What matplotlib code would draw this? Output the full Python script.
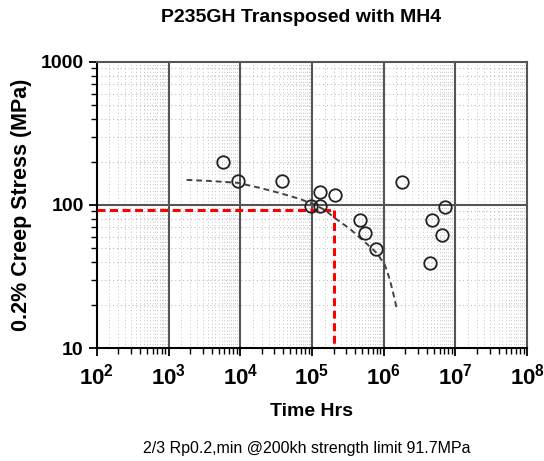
import numpy as np
import matplotlib
matplotlib.use("Agg")
import matplotlib.pyplot as plt
from matplotlib.ticker import LogLocator, NullFormatter, FixedLocator

plt.rcParams['font.family'] = ['Liberation Sans', 'DejaVu Sans']

# test results: rupture time (h) and stress (MPa)
time_hrs = [5780, 9350, 38400, 129000, 208000, 96600, 129000,
            466000, 547000, 771000, 1.81e6, 4.41e6, 4.75e6, 6.55e6, 7.08e6]
stress_mpa = [199, 147, 148, 124, 117, 98.4, 98,
              78.5, 64, 49, 145.6, 39, 78.5, 61.7, 96.4]

# master curve (MH4 fit)
fit_time = [1782, 3767, 9270, 18750, 35650, 67800, 103000, 151000,
            208000, 338000, 547000, 804000, 1.04e6, 1.22e6, 1.43e6, 1.53e6]
fit_stress = [149.6, 147, 142.6, 131.5, 121, 110, 101.6, 92.3,
              81, 68, 55, 46, 38, 30, 21.7, 18.4]

limit_time = 200000
limit_stress = 91.7

fig = plt.figure(figsize=(5.44, 4.61), dpi=100)
ax = fig.add_axes([0.178, 0.245, 0.791, 0.621])
ax.set_xscale('log')
ax.set_yscale('log')
ax.set_xlim(1e2, 1e8)
ax.set_ylim(10, 1000)

# dotted minor grid (denser in x), solid major grid
fine_subs = np.arange(1.5, 10, 0.5)
xs_fine = [d * s for d in 10.0 ** np.arange(2, 8) for s in fine_subs]
ys_fine = [d * s for d in 10.0 ** np.arange(1, 3) for s in range(2, 10)]
for v in xs_fine:
    ax.axvline(v, color='#c4c4c4', lw=0.7, ls=(0, (1, 2.5)), zorder=0)
for v in ys_fine:
    ax.axhline(v, color='#bdbdbd', lw=0.8, ls=(0, (1, 2.5)), zorder=0)
for v in 10.0 ** np.arange(3, 8):
    ax.axvline(v, color='#555555', lw=1.5, zorder=1)
ax.axhline(100, color='#555555', lw=1.5, zorder=1)

ax.xaxis.set_major_locator(FixedLocator(10.0 ** np.arange(2, 9)))
ax.xaxis.set_minor_locator(LogLocator(base=10, subs=np.arange(2, 10), numticks=20))
ax.xaxis.set_minor_formatter(NullFormatter())
ax.yaxis.set_major_locator(FixedLocator([10, 100, 1000]))
ax.yaxis.set_minor_locator(LogLocator(base=10, subs=np.arange(2, 10), numticks=20))
ax.yaxis.set_minor_formatter(NullFormatter())
ax.set_yticklabels(['10', '100', '1000'])

ax.tick_params(which='major', direction='out', length=6, width=1.3)
ax.tick_params(axis='y', labelsize=14)
ax.tick_params(axis='x', labelsize=16, pad=5)
ax.tick_params(which='minor', direction='out', length=4, width=1.0)
for lab in ax.get_xticklabels() + ax.get_yticklabels():
    lab.set_fontweight('bold')

for side in ['left', 'bottom']:
    ax.spines[side].set_linewidth(1.5)
for side in ['top', 'right']:
    ax.spines[side].set_color('#555555')
    ax.spines[side].set_linewidth(1.5)

# 2/3 Rp0.2 limit at 200 kh
ax.plot([1e2, limit_time], [limit_stress, limit_stress], color='red',
        lw=2.2, ls=(0, (2.6, 1.5)), zorder=3)
ax.plot([limit_time, limit_time], [limit_stress, 10], color='red',
        lw=2.2, ls=(0, (2.6, 1.5)), zorder=3)

ax.plot(fit_time, fit_stress, color='#444444', lw=1.4, ls=(0, (3, 2)), zorder=4)
ax.plot(time_hrs, stress_mpa, 'o', mfc='none', mec='#222222', ms=9, mew=1.3,
        zorder=5)

fig.text(0.553, 0.961, 'P235GH Transposed with MH4', ha='center', va='center',
         fontsize=14, fontweight='bold')
ax.set_xlabel('Time Hrs', fontsize=14, fontweight='bold', labelpad=10)
ax.set_ylabel('0.2% Creep Stress (MPa)', fontsize=15.5, fontweight='bold',
              labelpad=6)

fig.text(0.5635, 0.028, '2/3 Rp0.2,min @200kh strength limit 91.7MPa',
         ha='center', va='center', fontsize=11.5)

fig.savefig('out.png', dpi=100)
